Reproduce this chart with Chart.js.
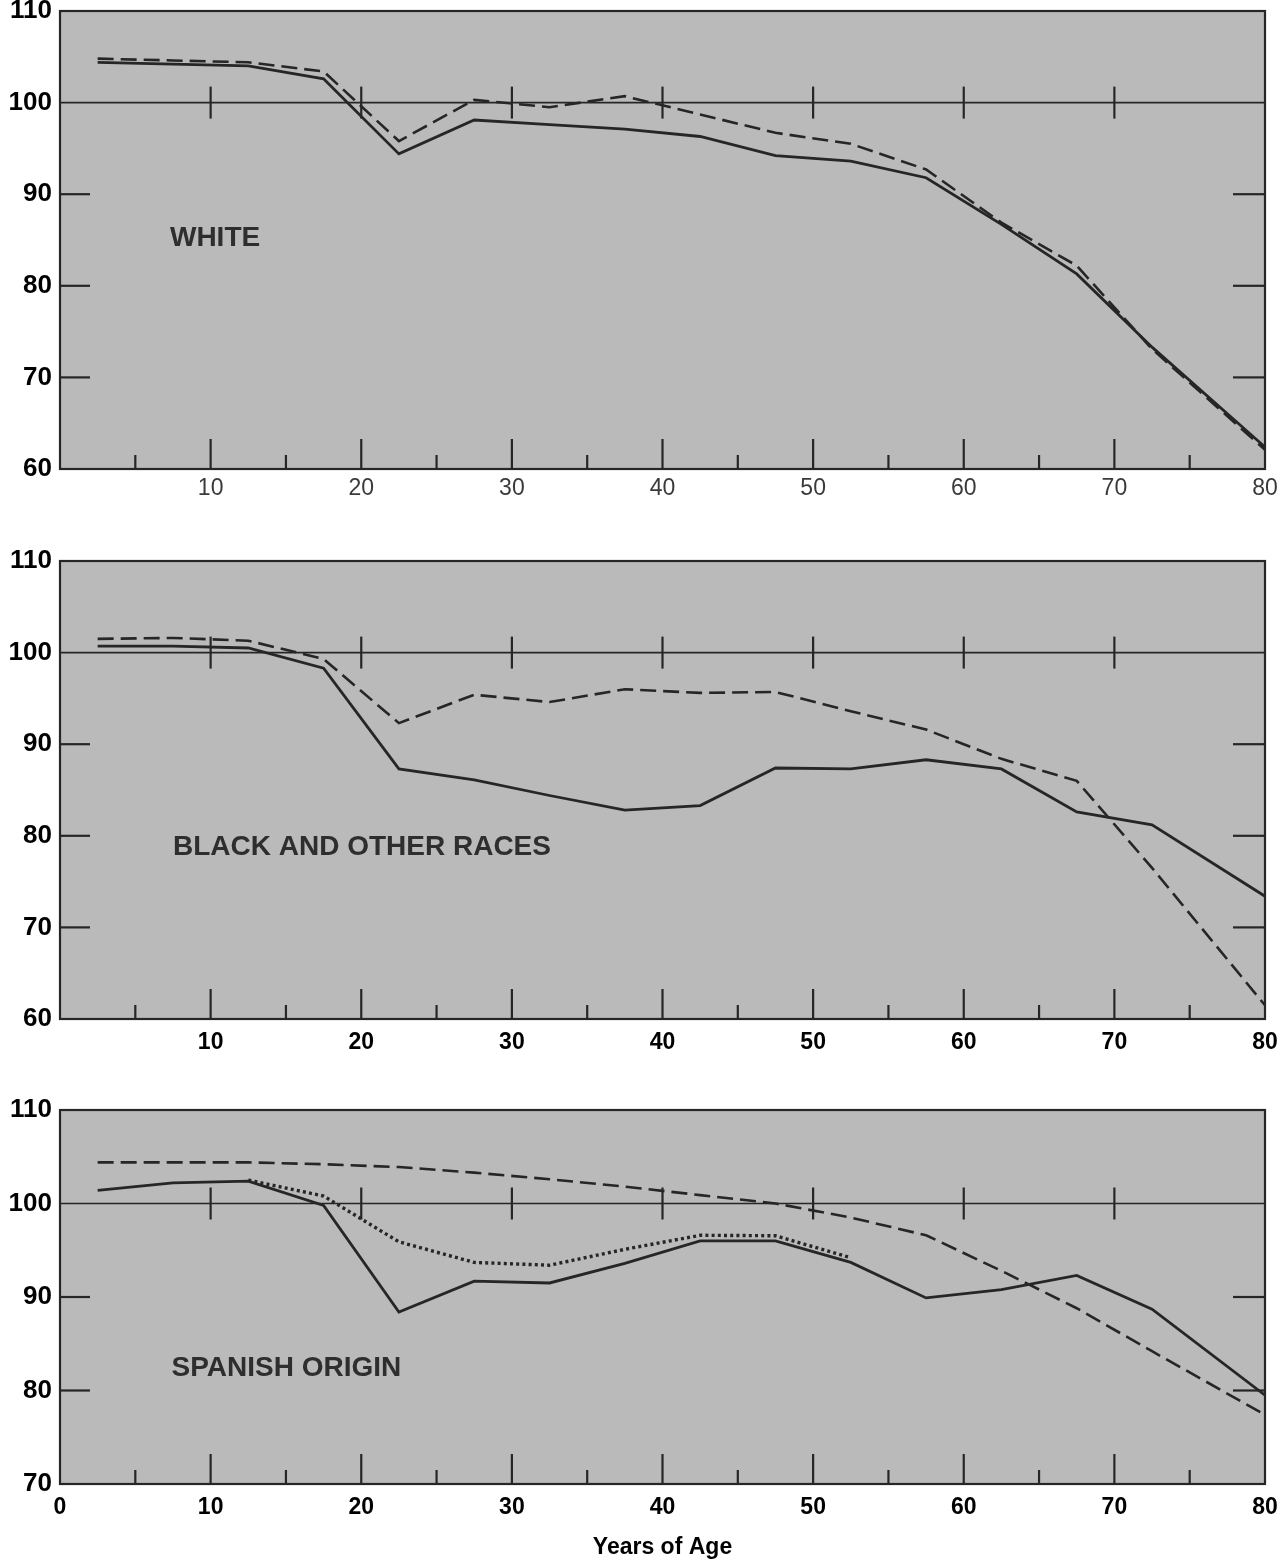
<!DOCTYPE html>
<html>
<head>
<meta charset="utf-8">
<script src="https://cdn.jsdelivr.net/npm/chart.js@4.4.1/dist/chart.umd.min.js"></script>
<style>
  html, body { margin: 0; padding: 0; background: #ffffff; }
  body { width: 1283px; height: 1563px; position: relative; overflow: hidden; }
  canvas { position: absolute; left: 0; }
</style>
</head>
<body>
<canvas id="c1" width="1283" height="514" style="top:0px"></canvas>
<canvas id="c2" width="1283" height="514" style="top:550px"></canvas>
<canvas id="c3" width="1283" height="464" style="top:1099px"></canvas>
<script>
// ---------------- DATA ----------------
const ages = [2.5, 7.5, 12.5, 17.5, 22.5, 27.5, 32.5, 37.5, 42.5, 47.5, 52.5, 57.5, 62.5, 67.5, 72.5, 80];

const whiteSolid  = [104.4, 104.2, 104.0, 102.6, 94.4, 98.1, 97.6, 97.1, 96.3, 94.2, 93.6, 91.8, 86.7, 81.3, 73.3, 62.4];
const whiteDashed = [104.8, 104.6, 104.4, 103.4, 95.8, 100.3, 99.5, 100.7, 98.7, 96.7, 95.5, 92.7, 86.9, 82.2, 73.1, 62.1];

const blackSolid  = [100.7, 100.7, 100.5, 98.3, 87.3, 86.1, 84.4, 82.8, 83.3, 87.4, 87.3, 88.3, 87.3, 82.6, 81.2, 73.4];
const blackDashed = [101.5, 101.6, 101.3, 99.3, 92.3, 95.4, 94.6, 96.0, 95.6, 95.7, 93.6, 91.6, 88.4, 86.0, 76.5, 61.5];

const spanishSolid  = [101.4, 102.2, 102.4, 99.8, 88.4, 91.7, 91.5, 93.6, 96.0, 96.0, 93.7, 89.9, 90.8, 92.3, 88.7, 79.5];
const spanishDashed = [104.4, 104.4, 104.4, 104.2, 103.9, 103.3, 102.6, 101.8, 100.9, 100.0, 98.5, 96.6, 92.8, 88.8, 84.2, 77.4];
const spanishDottedAges = [12.5, 17.5, 22.5, 27.5, 32.5, 37.5, 42.5, 47.5, 52.5];
const spanishDotted     = [102.5, 100.8, 95.9, 93.7, 93.4, 95.1, 96.6, 96.55, 94.2];

const xTickLabels      = [10, 20, 30, 40, 50, 60, 70, 80];
const xTickLabelsZero  = [0, 10, 20, 30, 40, 50, 60, 70, 80];
const xMajorTicks      = [10, 20, 30, 40, 50, 60, 70];
const xMinorTicks      = [5, 15, 25, 35, 45, 55, 65, 75];
const yTicks60         = [60, 70, 80, 90, 100, 110];
const yTicks70         = [70, 80, 90, 100, 110];

const panelTitles = ['WHITE', 'BLACK AND OTHER RACES', 'SPANISH ORIGIN'];
const axisTitle = 'Years of Age';

// ---------------- STYLE ----------------
const FONT = "'Liberation Sans', Arial, Helvetica, sans-serif";
const INK = '#262626';
const PANEL_BG = '#bababa';

function toPoints(xs, ys) { return xs.map((x, i) => ({ x: x, y: ys[i] })); }

const panelDecor = {
  id: 'panelDecor',
  beforeDraw(chart, args, o) {
    const { ctx, chartArea: a } = chart;
    ctx.save();
    ctx.fillStyle = o.bg;
    ctx.fillRect(a.left, a.top, a.right - a.left, a.bottom - a.top);
    ctx.restore();
  },
  beforeDatasetsDraw(chart, args, o) {
    const { ctx, chartArea: a, scales } = chart;
    const x = scales.x, y = scales.y;
    ctx.save();
    ctx.strokeStyle = INK;
    ctx.lineCap = 'butt';
    const yr = y.getPixelForValue(o.refValue);
    ctx.lineWidth = 1.6;
    ctx.beginPath(); ctx.moveTo(a.left, yr); ctx.lineTo(a.right, yr); ctx.stroke();
    ctx.lineWidth = 2.2;
    o.major.forEach(v => {
      const px = x.getPixelForValue(v);
      ctx.beginPath(); ctx.moveTo(px, yr - 16); ctx.lineTo(px, yr + 16); ctx.stroke();
    });
    o.major.forEach(v => {
      const px = x.getPixelForValue(v);
      ctx.beginPath(); ctx.moveTo(px, a.bottom); ctx.lineTo(px, a.bottom - 30); ctx.stroke();
    });
    o.minor.forEach(v => {
      const px = x.getPixelForValue(v);
      ctx.beginPath(); ctx.moveTo(px, a.bottom); ctx.lineTo(px, a.bottom - 14); ctx.stroke();
    });
    o.side.forEach(v => {
      const py = y.getPixelForValue(v);
      ctx.beginPath(); ctx.moveTo(a.left, py); ctx.lineTo(a.left + 30, py); ctx.stroke();
      ctx.beginPath(); ctx.moveTo(a.right - 32, py); ctx.lineTo(a.right, py); ctx.stroke();
    });
    ctx.fillStyle = '#2e2e2e';
    ctx.font = 'bold 28px ' + FONT;
    ctx.textAlign = 'left';
    ctx.textBaseline = 'middle';
    ctx.fillText(o.label, x.getPixelForValue(o.labelX), y.getPixelForValue(o.labelY));
    ctx.restore();
  },
  afterDatasetsDraw(chart) {
    const { ctx, chartArea: a } = chart;
    ctx.save();
    ctx.strokeStyle = INK;
    ctx.lineWidth = 2.2;
    ctx.strokeRect(a.left, a.top, a.right - a.left, a.bottom - a.top);
    ctx.restore();
  }
};

function lineDs(xs, ys, kind) {
  const base = { data: toPoints(xs, ys), borderColor: INK, pointRadius: 0, tension: 0, fill: false,
                 borderJoinStyle: 'miter', borderWidth: 2.8 };
  if (kind === 'dash') { base.borderDash = [16, 7]; base.borderWidth = 2.6; }
  if (kind === 'dot')  { base.borderDash = [3, 3.2]; base.borderWidth = 3.4; }
  return base;
}

function makePanel(id, p) {
  return new Chart(document.getElementById(id), {
    type: 'line',
    data: { datasets: p.datasets },
    options: {
      responsive: false,
      animation: false,
      events: [],
      layout: { padding: { top: 11, right: 18, left: 0, bottom: 0 } },
      plugins: {
        legend: { display: false },
        tooltip: { enabled: false },
        panelDecor: {
          bg: PANEL_BG, refValue: 100, major: xMajorTicks, minor: xMinorTicks,
          side: p.yTicks.filter(v => v !== 100 && v !== p.yMin && v !== p.yMax),
          label: p.label, labelX: p.labelX, labelY: p.labelY
        }
      },
      scales: {
        x: {
          type: 'linear', min: 0, max: 80,
          grid: { display: false, drawTicks: false },
          border: { display: false },
          afterBuildTicks: s => { s.ticks = p.xLabels.map(v => ({ value: v })); },
          afterFit: s => { s.height = p.xAxisHeight; s.paddingLeft = 0; s.paddingRight = 0; },
          ticks: { autoSkip: false, maxRotation: 0, padding: p.xPad, color: p.xColor,
                   font: { family: FONT, size: 23, weight: p.xWeight, lineHeight: 1 } },
          title: p.title ? { display: true, text: p.title, color: '#000',
                   font: { family: FONT, size: 23, weight: 'bold', lineHeight: 1 },
                   padding: { top: 0, bottom: 4 } } : { display: false }
        },
        y: {
          type: 'linear', min: p.yMin, max: p.yMax,
          grid: { display: false, drawTicks: false },
          border: { display: false },
          afterBuildTicks: s => { s.ticks = p.yTicks.map(v => ({ value: v })); },
          afterFit: s => { s.width = 60; s.paddingTop = 0; s.paddingBottom = 0; },
          ticks: { padding: 8, color: '#000',
                   font: { family: FONT, size: 26, weight: 'bold', lineHeight: 1 } }
        }
      }
    },
    plugins: [panelDecor]
  });
}

makePanel('c1', {
  datasets: [lineDs(ages, whiteSolid, 'solid'), lineDs(ages, whiteDashed, 'dash')],
  yMin: 60, yMax: 110, yTicks: yTicks60, xLabels: xTickLabels,
  xAxisHeight: 45, xPad: 8, xColor: '#3a3a3a', xWeight: 'normal',
  label: panelTitles[0], labelX: 7.3, labelY: 85.2
});
makePanel('c2', {
  datasets: [lineDs(ages, blackSolid, 'solid'), lineDs(ages, blackDashed, 'dash')],
  yMin: 60, yMax: 110, yTicks: yTicks60, xLabels: xTickLabels,
  xAxisHeight: 45, xPad: 12, xColor: '#000', xWeight: 'bold',
  label: panelTitles[1], labelX: 7.5, labelY: 78.7
});
makePanel('c3', {
  datasets: [lineDs(ages, spanishSolid, 'solid'), lineDs(ages, spanishDashed, 'dash'),
             lineDs(spanishDottedAges, spanishDotted, 'dot')],
  yMin: 70, yMax: 110, yTicks: yTicks70, xLabels: xTickLabelsZero,
  xAxisHeight: 79, xPad: 12, xColor: '#000', xWeight: 'bold',
  label: panelTitles[2], labelX: 7.4, labelY: 82.4, title: axisTitle
});
</script>
</body>
</html>
